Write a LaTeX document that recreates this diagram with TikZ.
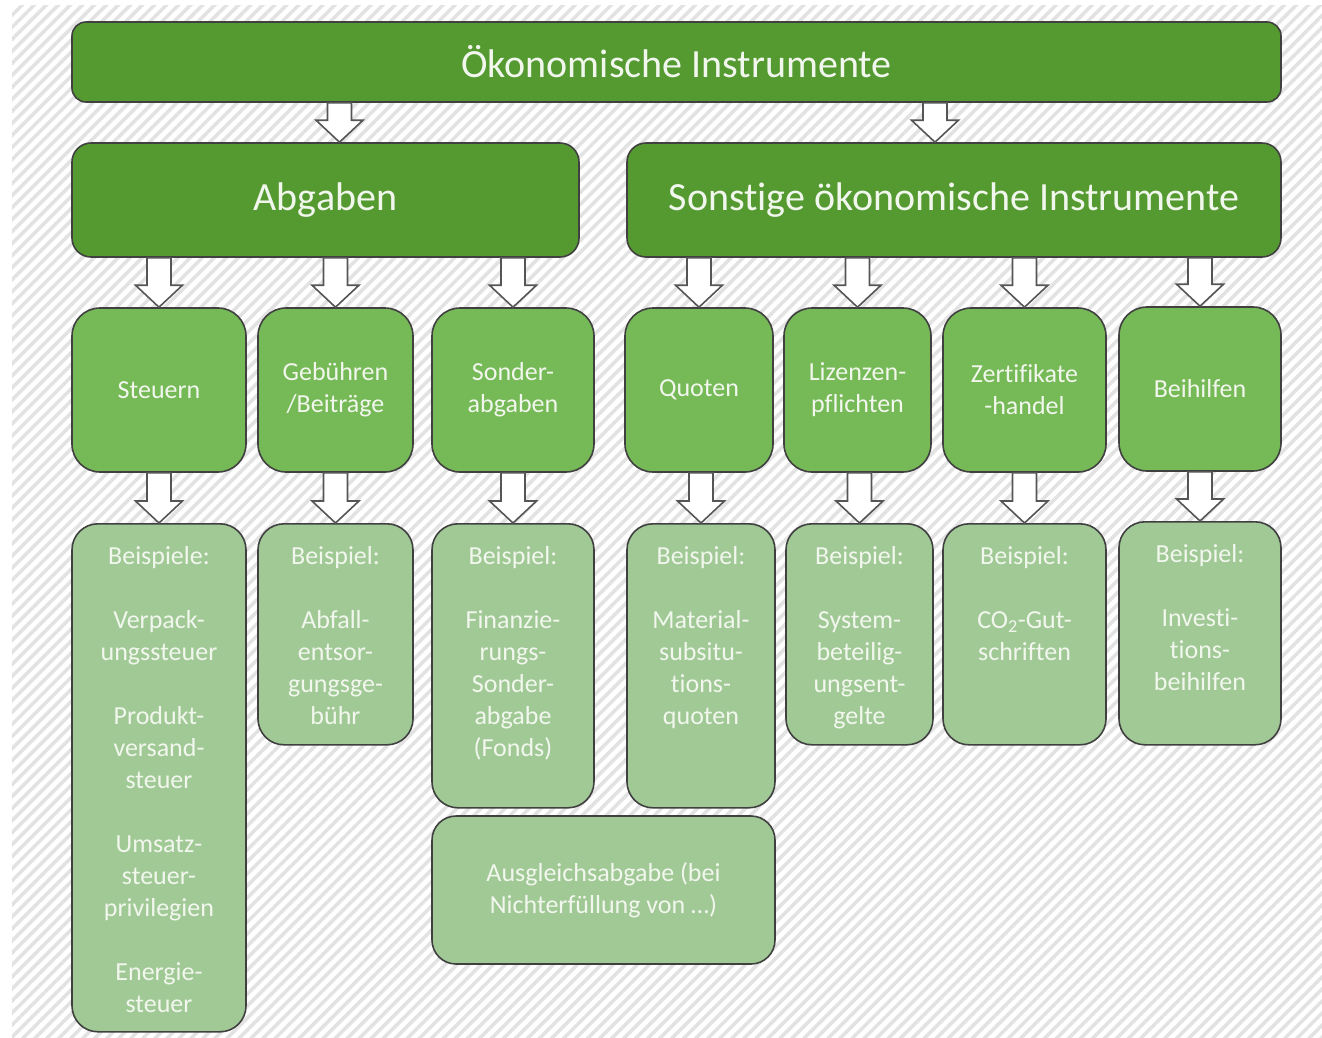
\documentclass[tikz,border=0pt]{standalone}
\usepackage{fontspec}
\setmainfont{Carlito}[Ligatures=CommonOff]
\usetikzlibrary{patterns.meta,calc}
\definecolor{dgreen}{RGB}{85,154,49}
\definecolor{mgreen}{RGB}{118,185,87}
\definecolor{lgreen}{RGB}{161,201,150}
\definecolor{txt}{RGB}{242,247,238}
\definecolor{frame}{RGB}{64,64,64}
\definecolor{agray}{RGB}{85,85,85}
\definecolor{stripe}{RGB}{226,226,226}
\tikzset{
  box/.style={draw=frame, line width=1.6pt, text=txt, inner sep=0pt, align=center},
  head/.style={box, fill=dgreen, font=\fontsize{40}{48}\selectfont},
  cat/.style={box, fill=mgreen, rounded corners=28pt, minimum height=164pt,
    font=\fontsize{26}{32}\selectfont},
  ex/.style={box, fill=lgreen, rounded corners=26pt, anchor=north,
    font=\fontsize{26}{32}\selectfont},
  blk/.style={draw=agray, line width=1.6pt, fill=white, line join=miter}
}
\newcommand\bsp[2]{\parbox[t][#1pt][t]{130pt}{\centering\rule{0pt}{41pt}#2}}
\newcommand\blk[2]{\draw[blk] let \p1=(#1), \p2=(#2) in
  ({\x1-12pt},{\y1}) -- ({\x1+12pt},{\y1}) -- ({\x1+12pt},{\y2+22pt})
  -- ({\x1+23.5pt},{\y2+22pt}) -- ({\x1},{\y2}) -- ({\x1-23.5pt},{\y2+22pt})
  -- ({\x1-12pt},{\y2+22pt}) -- cycle;}
\begin{document}
\begin{tikzpicture}[x=1pt,y=-1pt]
\useasboundingbox (0,0) rectangle (1322,1037);
\fill[white] (0,0) rectangle (1322,1037);
\fill[pattern={Lines[angle=45,distance=8.5pt,line width=3.5pt]}, pattern color=stripe]
  (12,5) rectangle (1322,1037);
% top levels
\node[head, rounded corners=14pt, minimum width=1209pt, minimum height=80pt]
  (top) at (676.5,62) {Ökonomische Instrumente};
\node[head, rounded corners=19pt, minimum width=507pt, minimum height=114pt]
  (abg) at (325.5,200) {Abgaben};
\node[head, rounded corners=19pt, minimum width=654pt, minimum height=114pt]
  (son) at (954,200) {Sonstige ökonomische Instrumente};
% categories
\node[cat, minimum width=174pt] (st) at (159,390) {Steuern};
\node[cat, minimum width=155pt] (geb) at (335.5,390) {Gebühren\\/Beiträge};
\node[cat, minimum width=162pt] (sond) at (513,390) {Sonder-\\abgaben};
\node[cat, minimum width=148pt] (quo) at (699,390) {Quoten};
\node[cat, minimum width=147pt] (liz) at (857.5,390) {Lizenzen-\\pflichten};
\node[cat, minimum width=163pt] (zert) at (1024.5,390) {Zertifikate\\-handel};
\node[cat, minimum width=162pt] (beih) at (1200,389) {Beihilfen};
% examples
\node[ex, minimum width=174pt] (exst) at (159,523) {\bsp{508}{Beispiele:\\[32pt]
  Verpack-\\ungssteuer\\[32pt]Produkt-\\versand-\\steuer\\[32pt]
  Umsatz-\\steuer-\\privilegien\\[32pt]Energie-\\steuer}};
\node[ex, minimum width=155pt] (exgeb) at (335.5,523) {\bsp{221}{Beispiel:\\[32pt]
  Abfall-\\entsor-\\gungsge-\\bühr}};
\node[ex, minimum width=162pt] (exsond) at (513,523) {\bsp{284}{Beispiel:\\[32pt]
  Finanzie-\\rungs-\\Sonder-\\abgabe\\(Fonds)}};
\node[ex, minimum width=148pt] (exquo) at (701,523) {\bsp{284}{Beispiel:\\[32pt]
  Material-\\subsitu-\\tions-\\quoten}};
\node[ex, minimum width=147pt] (exliz) at (859.5,523) {\bsp{221}{Beispiel:\\[32pt]
  System-\\beteilig-\\ungsent-\\gelte}};
\node[ex, minimum width=163pt] (exzert) at (1024.5,523) {\bsp{221}{Beispiel:\\[32pt]
  CO\textsubscript{2}-Gut-\\schriften}};
\node[ex, minimum width=162pt] (exbeih) at (1200,521) {\bsp{223}{Beispiel:\\[32pt]
  Investi-\\tions-\\beihilfen}};
\node[box, fill=lgreen, rounded corners=24pt, minimum width=343pt, minimum height=148pt,
  font=\fontsize{26}{32}\selectfont] (ausgl) at (603.5,890)
  {Ausgleichsabgabe (bei\\Nichterfüllung von …)};
% arrows
\coordinate (t1) at ([xshift=14pt]abg.north);
\coordinate (t2) at ([xshift=-19pt]son.north);
\blk{t1 |- top.south}{t1}
\blk{t2 |- top.south}{t2}
\foreach \c in {st,geb,sond}{\blk{\c.north |- abg.south}{\c.north}}
\foreach \c in {quo,liz,zert,beih}{\blk{\c.north |- son.south}{\c.north}}
\foreach \c/\e in {st/exst,geb/exgeb,sond/exsond,quo/exquo,liz/exliz,zert/exzert,beih/exbeih}
  {\blk{\e.north |- \c.south}{\e.north}}
\end{tikzpicture}
\end{document}
